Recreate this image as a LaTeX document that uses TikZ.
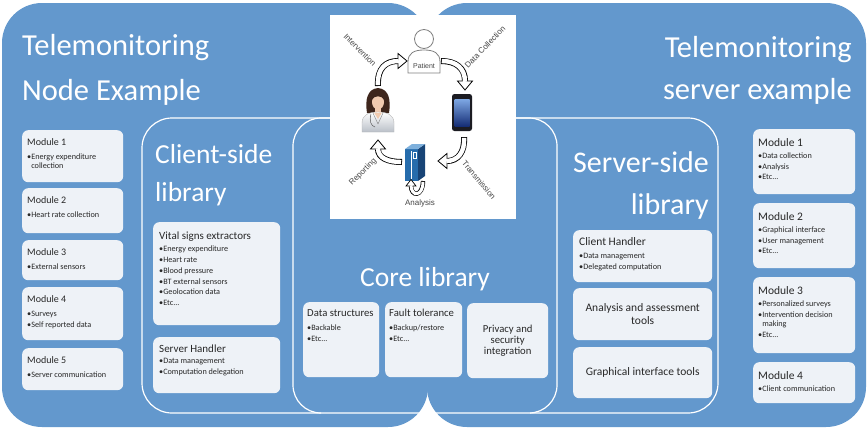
\documentclass[tikz,border=0pt]{standalone}
\usepackage{fontspec}
\setmainfont{Carlito}
\newfontfamily\cyclefont{Liberation Sans}
\usetikzlibrary{calc}

\definecolor{panelblue}{RGB}{99,152,205}
\definecolor{cardfill}{RGB}{238,242,247}
\definecolor{cardtext}{RGB}{40,40,40}
\definecolor{cyclegray}{RGB}{128,128,128}
\definecolor{cycletext}{RGB}{70,70,70}
\definecolor{skin}{RGB}{241,203,176}
\definecolor{hair}{RGB}{62,38,28}
\definecolor{coatshade}{RGB}{186,192,200}
\definecolor{towerfront}{RGB}{38,108,172}
\definecolor{towerside}{RGB}{24,68,118}
\definecolor{towertop}{RGB}{126,176,220}
\definecolor{phonebody}{RGB}{28,28,34}
\definecolor{screenlight}{RGB}{126,168,228}
\definecolor{screendark}{RGB}{22,46,118}

\tikzset{
  panel/.style={fill=panelblue, rounded corners=40pt},
  libline/.style={draw=white, line width=1.2pt, rounded corners=30pt},
  card/.style={fill=cardfill, rounded corners=6pt, inner sep=0pt, anchor=north west},
  bigtitle/.style={text=white, inner sep=0pt, font=\fontsize{30.5}{36}\selectfont},
  libtitle/.style={text=white, inner sep=0pt, font=\fontsize{27.5}{33}\selectfont},
  cardhead/.style={text=cardtext, inner sep=0pt, anchor=base west},
  bullets/.style={text=cardtext, inner sep=0pt, anchor=north west, align=left,
    font=\fontsize{8.2}{10.8}\selectfont},
  cardcenter/.style={text=cardtext, inner sep=0pt, align=center},
  cyclelabel/.style={text=cycletext, inner sep=0pt, font=\cyclefont\fontsize{8}{9.6}\selectfont},
  shaftout/.style={draw=black, line width=6pt},
  shaftin/.style={draw=white, line width=4.4pt, shorten <=0.8pt},
  tiphead/.style={fill=white, draw=black, line width=0.8pt, line join=miter},
}

% an empty rounded card: name, left, top, width, height
\newcommand\infocard[5]{\node[card, minimum width=#4pt, minimum height=#5pt] (#1) at (#2,#3) {};}
% continuation line of a wrapped bullet
\newcommand\wrapline{\\[-1.6pt]\phantom{•}}

\begin{document}
\begin{tikzpicture}[x=1pt,y=-1pt]
\useasboundingbox (0,0) rectangle (868,429);
\fill[white] (0,0) rectangle (868,429);

% the two blue panels
\fill[panel] (2,3) rectangle (428,427);
\fill[panel] (427,3) rectangle (866,427);

% library outlines
\draw[libline] (330,118) -- (142,118) -- (142,413) -- (321,413);
\draw[libline, rounded corners=28pt] (293,118) rectangle (557,413);
\draw[libline] (516,118) -- (718,118) -- (718,413) -- (530,413);

% panel titles
\node[bigtitle, anchor=base west] (nodetitle1) at (22,55) {Telemonitoring};
\node[bigtitle, anchor=base west] (nodetitle2) at (22,100) {Node Example};
\node[bigtitle, anchor=base east] (srvtitle1) at (852,57) {Telemonitoring};
\node[bigtitle, anchor=base east] (srvtitle2) at (852,99) {server example};

% library titles
\node[libtitle, anchor=base west] (client1) at (155,163) {Client-side};
\node[libtitle, anchor=base west] (client2) at (155,201) {library};
\node[libtitle, anchor=base] (core) at (425,286) {Core library};
\node[libtitle, font=\fontsize{30}{36}\selectfont, anchor=base east] (server1) at (709,172) {Server-side};
\node[libtitle, font=\fontsize{30}{36}\selectfont, anchor=base east] (server2) at (709,214) {library};

% ---------- node modules ----------
\infocard{lm1}{22}{130}{101}{52}
\node[cardhead, font=\fontsize{10}{12}\selectfont] (lm1h) at ($(lm1.north west)+(5,15)$) {Module 1};
\node[bullets] (lm1b) at ($(lm1.north west)+(5,21.5)$) {\strut•Energy expenditure\wrapline collection};

\infocard{lm2}{22}{188}{101}{45}
\node[cardhead, font=\fontsize{10}{12}\selectfont] (lm2h) at ($(lm2.north west)+(5,15)$) {Module 2};
\node[bullets] (lm2b) at ($(lm2.north west)+(5,21.5)$) {\strut•Heart rate collection};

\infocard{lm3}{22}{240}{101}{40}
\node[cardhead, font=\fontsize{10}{12}\selectfont] (lm3h) at ($(lm3.north west)+(5,15)$) {Module 3};
\node[bullets] (lm3b) at ($(lm3.north west)+(5,21.5)$) {\strut•External sensors};

\infocard{lm4}{22}{287}{101}{53}
\node[cardhead, font=\fontsize{10}{12}\selectfont] (lm4h) at ($(lm4.north west)+(5,15)$) {Module 4};
\node[bullets] (lm4b) at ($(lm4.north west)+(5,21.5)$) {\strut•Surveys\\•Self reported data};

\infocard{lm5}{22}{348}{101}{42}
\node[cardhead, font=\fontsize{10}{12}\selectfont] (lm5h) at ($(lm5.north west)+(5,15)$) {Module 5};
\node[bullets] (lm5b) at ($(lm5.north west)+(5,21.5)$) {\strut•Server communication};

% ---------- client-side library ----------
\infocard{vital}{153}{222}{127}{103}
\node[cardhead, font=\fontsize{11}{13}\selectfont] (vitalh) at ($(vital.north west)+(6,17)$) {Vital signs extractors};
\node[bullets] (vitalb) at ($(vital.north west)+(6,22)$) {\strut•Energy expenditure\\•Heart rate\\•Blood pressure\\•BT external sensors\\•Geolocation data\\•Etc...};

\infocard{shandler}{153}{337}{127}{56}
\node[cardhead, font=\fontsize{11}{13}\selectfont] (shandlerh) at ($(shandler.north west)+(6,15)$) {Server Handler};
\node[bullets] (shandlerb) at ($(shandler.north west)+(6,19)$) {\strut•Data management\\•Computation delegation};

% ---------- core library ----------
\infocard{datas}{303}{302}{76}{75}
\node[cardhead, font=\fontsize{10.7}{13}\selectfont] (datash) at ($(datas.north west)+(4,14)$) {Data structures};
\node[bullets] (datasb) at ($(datas.north west)+(4,20.5)$) {\strut•Backable\\•Etc...};

\infocard{fault}{385}{302}{77}{75}
\node[cardhead, font=\fontsize{10.7}{13}\selectfont] (faulth) at ($(fault.north west)+(4,14)$) {Fault tolerance};
\node[bullets] (faultb) at ($(fault.north west)+(4,20.5)$) {\strut•Backup/restore\\•Etc...};

\infocard{privacy}{467}{303}{81}{75}
\node[cardcenter, font=\fontsize{10.7}{11}\selectfont] (privacyt) at (privacy.center) {Privacy and\\security\\integration};

% ---------- server-side library ----------
\infocard{chandler}{573}{230}{139}{52}
\node[cardhead, font=\fontsize{11.5}{13}\selectfont] (chandlerh) at ($(chandler.north west)+(6,15)$) {Client Handler};
\node[bullets] (chandlerb) at ($(chandler.north west)+(6,21)$) {\strut•Data management\\•Delegated computation};

\infocard{assess}{573}{288}{139}{52}
\node[cardcenter, font=\fontsize{11.5}{12.5}\selectfont] (assesst) at (assess.center) {Analysis and assessment\\tools};

\infocard{gui}{573}{347}{139}{51}
\node[cardcenter, font=\fontsize{11.5}{12.5}\selectfont] (guit) at (gui.center) {Graphical interface tools};

% ---------- server modules ----------
\infocard{rm1}{753}{129}{102}{65}
\node[cardhead, font=\fontsize{11.5}{13}\selectfont] (rm1h) at ($(rm1.north west)+(5,17)$) {Module 1};
\node[bullets] (rm1b) at ($(rm1.north west)+(5,21.5)$) {\strut•Data collection\\•Analysis\\•Etc...};

\infocard{rm2}{753}{203}{102}{65}
\node[cardhead, font=\fontsize{11.5}{13}\selectfont] (rm2h) at ($(rm2.north west)+(5,17)$) {Module 2};
\node[bullets] (rm2b) at ($(rm2.north west)+(5,21.5)$) {\strut•Graphical interface\\•User management\\•Etc...};

\infocard{rm3}{753}{277}{102}{76}
\node[cardhead, font=\fontsize{11.5}{13}\selectfont] (rm3h) at ($(rm3.north west)+(5,17)$) {Module 3};
\node[bullets] (rm3b) at ($(rm3.north west)+(5,21.5)$) {\strut•Personalized surveys\\•Intervention decision\wrapline making\\•Etc...};

\infocard{rm4}{753}{362}{102}{41}
\node[cardhead, font=\fontsize{11.5}{13}\selectfont] (rm4h) at ($(rm4.north west)+(5,17)$) {Module 4};
\node[bullets] (rm4b) at ($(rm4.north west)+(5,21.5)$) {\strut•Client communication};

% ---------- telemonitoring cycle ----------
\fill[white] (330,15) rectangle (516,219);

% patient
\draw[cyclegray, line width=0.8pt, fill=white] (408,73) -- (408,62) .. controls (408,53) and (414,50) .. (424,50)
  .. controls (434,50) and (440,53) .. (440,62) -- (440,73) -- cycle;
\draw[cyclegray, line width=0.8pt, fill=white] (424,39) circle (9.5);
\node[cyclelabel, font=\cyclefont\fontsize{7}{8}\selectfont] (patient) at (424,66) {Patient};

% phone
\fill[phonebody, rounded corners=2.5pt] (452,94) rectangle (472,131);
\shade[top color=screenlight, bottom color=screendark] (454.5,99) rectangle (469.5,126);

% clinician
\fill[hair] (367,113) .. controls (365,100) and (367,89) .. (378,88) .. controls (389,89) and (391,100) .. (389,113) -- cycle;
\fill[skin] (375,106) rectangle (381,114);
\fill[skin] (378,102) ellipse (6 and 7.5);
\fill[hair] (371.5,100) .. controls (372,92) and (384,91) .. (384.5,100) .. controls (381,95) and (375,95) .. (371.5,100) -- cycle;
\shade[top color=white, bottom color=coatshade, draw=cyclegray!60, line width=0.4pt]
  (362,132) -- (362,123) .. controls (362,115) and (369,112) .. (378,112) .. controls (387,112) and (394,115) .. (394,123) -- (394,132) -- cycle;
\fill[skin] (374,112.5) -- (382,112.5) -- (378,119) -- cycle;
\draw[cyclegray, line width=0.4pt] (373,113) -- (378,124) -- (383,113);
\draw[cyclegray!70!black, line width=0.5pt] (371,114) .. controls (369,121) and (371,126) .. (375,127);

% analysis server
\fill[towerside] (418,149) -- (425,144) -- (425,176) -- (418,181) -- cycle;
\fill[towerfront] (405,149) rectangle (418,181);
\fill[towertop] (405,149) -- (412,144) -- (425,144) -- (418,149) -- cycle;
\draw[white, line width=0.5pt] (411.5,151) -- (411.5,179);
\draw[white, line width=0.4pt] (413.5,152) rectangle (416.5,158);

% cycle arrows
\coordinate (iv-s) at (378,86);
\coordinate (iv-e) at (398,61);
\draw[shaftout] (iv-s) .. controls (377,68) and (386,61) .. (iv-e);
\draw[tiphead] ($(iv-e)+(0,-7.5)$) -- ($(iv-e)+(9,0)$) -- ($(iv-e)+(0,7.5)$) -- cycle;
\draw[shaftin] (iv-s) .. controls (377,68) and (386,61) .. ($(iv-e)+(0.8,0)$);

\coordinate (dc-s) at (441,61);
\coordinate (dc-e) at (465,81);
\draw[shaftout] (dc-s) .. controls (456,61) and (465,68) .. (dc-e);
\draw[tiphead] ($(dc-e)+(-7.5,0)$) -- ($(dc-e)+(0,9)$) -- ($(dc-e)+(7.5,0)$) -- cycle;
\draw[shaftin] (dc-s) .. controls (456,61) and (465,68) .. ($(dc-e)+(0,0.8)$);

\coordinate (tr-s) at (464,137);
\coordinate (tr-e) at (447,161);
\draw[shaftout] (tr-s) .. controls (465,152) and (458,161) .. (tr-e);
\draw[tiphead] ($(tr-e)+(0,-7.5)$) -- ($(tr-e)+(-9,0)$) -- ($(tr-e)+(0,7.5)$) -- cycle;
\draw[shaftin] (tr-s) .. controls (465,152) and (458,161) .. ($(tr-e)+(-0.8,0)$);

\coordinate (rp-s) at (402,162);
\coordinate (rp-e) at (378,149);
\draw[shaftout] (rp-s) .. controls (388,162) and (378,158) .. (rp-e);
\draw[tiphead] ($(rp-e)+(-7.5,0)$) -- ($(rp-e)+(0,-9)$) -- ($(rp-e)+(7.5,0)$) -- cycle;
\draw[shaftin] (rp-s) .. controls (388,162) and (378,158) .. ($(rp-e)+(0,-0.8)$);

\coordinate (an-s) at (423,181);
\coordinate (an-e) at (411,186);
\draw[shaftout, line width=4.4pt] (an-s) .. controls (423,197) and (411,197) .. (an-e);
\draw[tiphead, line width=0.7pt] ($(an-e)+(-5,0)$) -- ($(an-e)+(0,-6.5)$) -- ($(an-e)+(5,0)$) -- cycle;
\draw[shaftin, line width=3pt] (an-s) .. controls (423,197) and (411,197) .. ($(an-e)+(0,-0.7)$);

% cycle labels
\node[cyclelabel, rotate=-45] (intervention) at (360,50) {Intervention};
\node[cyclelabel, rotate=46] (datacollection) at (485,47) {Data Collection};
\node[cyclelabel, rotate=45] (reporting) at (363,172) {Reporting};
\node[cyclelabel, rotate=-50] (transmission) at (479,180) {Transmission};
\node[cyclelabel] (analysis) at (420,203) {Analysis};
\end{tikzpicture}
\end{document}
